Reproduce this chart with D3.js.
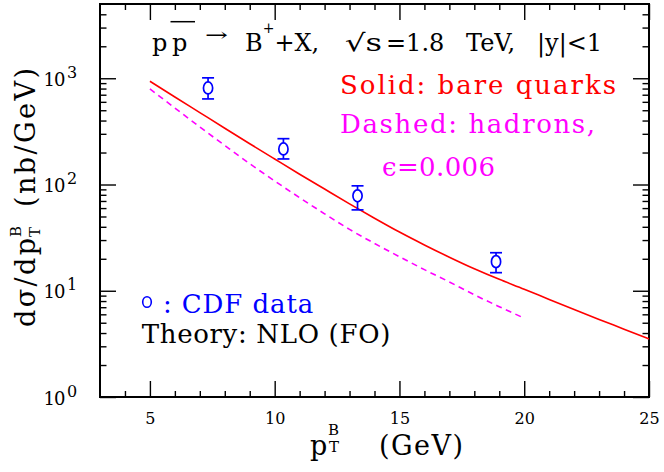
<!DOCTYPE html>
<html><head><meta charset="utf-8">
<script src="https://cdn.jsdelivr.net/npm/d3@7"></script>
<style>body{margin:0;background:#fff} svg{display:block}</style>
</head><body>
<svg id="c" width="664" height="472" font-family="'DejaVu Serif'"></svg>
<script>
// ---- data ----
const pT = [5,6,7,8,9,10,11,12,13,14,15,16,17,18,19,20,21,22,23,24,25];
const bareQuarks = [937.6,666.8,475.3,338.8,242.1,173.8,125.0,90.6,65.8,48.2,35.7,27.0,20.7,16.1,12.8,10.35,8.28,6.65,5.37,4.35,3.52];
const pTHadrons = [5,6,7,8,9,10,11,12,13,14,15,16,17,18,19,20];
const hadrons = [794,525,348,233,157,108,75.2,53.0,37.8,27.9,20.9,15.8,12.1,9.16,7.08,5.52];
const cdfPT = [7.33,10.35,13.32,18.87];
const cdfVal = [811,216,78.2,18.8];
const cdfLo = [639,174,57.7,14.8];
const cdfHi = [1009,270,97.2,22.8];
const xMajor = [5,10,15,20,25];
const yMajor = [1,10,100,1000];
const yExp = ["0","1","2","3"];

// ---- layout ----
const FONT = "'DejaVu Serif'";
const svg = d3.select("#c");
const L = 100, R = 649, T = 4, B = 397;
const x = d3.scaleLinear().domain([3,25]).range([L,R]);
const y = d3.scaleLog().domain([1,5000]).range([B,T]);

const xMinor = d3.range(4,25).filter(v => v % 5 !== 0);
const yMinor = [];
yMajor.forEach(d => { for (let k=2;k<=9;k++){ const v=d*k; if (v<5000) yMinor.push(v);} });

function ax(gen, tr, vals, size, fmt){
  const g = svg.append("g").attr("transform", tr)
    .call(gen.tickValues(vals).tickSize(size).tickSizeOuter(0).tickFormat(fmt || ""));
  g.attr("font-family",FONT);
  g.select(".domain").remove();
  g.selectAll("line").attr("stroke","#000").attr("stroke-width",1.4);
  return g;
}
const gxb = ax(d3.axisBottom(x).tickPadding(16), `translate(0,${B})`, xMajor, -16, d3.format("d"));
gxb.attr("font-size",16);
gxb.selectAll("text").attr("fill","#000");
ax(d3.axisBottom(x), `translate(0,${B})`, xMinor, -6);
ax(d3.axisTop(x), `translate(0,${T})`, xMajor, -16);
ax(d3.axisTop(x), `translate(0,${T})`, xMinor, -6);
ax(d3.axisLeft(y), `translate(${L},0)`, yMajor, -16);
ax(d3.axisLeft(y), `translate(${L},0)`, yMinor, -6.5);
ax(d3.axisRight(y), `translate(${R},0)`, yMajor, -16);
ax(d3.axisRight(y), `translate(${R},0)`, yMinor, -6.5);

svg.append("rect").attr("x",L).attr("y",T).attr("width",R-L).attr("height",B-T)
  .attr("fill","none").attr("stroke","#000").attr("stroke-width",2);

// y tick labels 10^n
yMajor.forEach((v,i) => {
  svg.append("text").attr("x",43.5).attr("y", y(v)+7.5).attr("font-size",18).attr("fill","#000")
    .attr("textLength",22).attr("lengthAdjust","spacing").text("10");
  svg.append("text").attr("x",67).attr("y", y(v)-0.5).attr("font-size",16).attr("fill","#000").text(yExp[i]);
});

// ---- curves ----
const line = d3.line().curve(d3.curveMonotoneX).x(d => x(d[0])).y(d => y(d[1]));
svg.append("path").datum(pT.map((p,i)=>[p,bareQuarks[i]])).attr("d",line)
  .attr("fill","none").attr("stroke","#ff0000").attr("stroke-width",1.6);
svg.append("path").datum(pTHadrons.map((p,i)=>[p,hadrons[i]])).attr("d",line)
  .attr("fill","none").attr("stroke","#ff00ff").attr("stroke-width",1.6).attr("stroke-dasharray","6,4.5");

// ---- CDF data ----
const blue = "#0000ff";
const gd = svg.append("g").attr("stroke",blue).attr("stroke-width",1.7).attr("fill","none");
cdfPT.forEach((p,i) => {
  const cx = x(p);
  gd.append("line").attr("x1",cx).attr("x2",cx).attr("y1",y(cdfHi[i])).attr("y2",y(cdfLo[i]));
  gd.append("line").attr("x1",cx-6).attr("x2",cx+6).attr("y1",y(cdfHi[i])).attr("y2",y(cdfHi[i]));
  gd.append("line").attr("x1",cx-6).attr("x2",cx+6).attr("y1",y(cdfLo[i])).attr("y2",y(cdfLo[i]));
  gd.append("ellipse").attr("cx",cx).attr("cy",y(cdfVal[i])).attr("rx",4.6).attr("ry",6).attr("fill","#fff");
});

// ---- texts ----
function txt(s, xx, yy, size, color, len, adj){
  const t = svg.append("text").attr("x",xx).attr("y",yy).attr("font-size",size).attr("fill",color||"#000").text(s);
  if (len) t.attr("textLength",len).attr("lengthAdjust",adj || "spacing");
  return t;
}
// title
txt("p",152,50.7,24,"#000");
txt("p",172,50.7,24,"#000");
svg.append("line").attr("x1",170.5).attr("x2",195).attr("y1",21.7).attr("y2",21.7).attr("stroke","#000").attr("stroke-width",1.5);
txt("→",205,41,18,"#000",23,"spacingAndGlyphs");
const tb = svg.append("text").attr("x",245).attr("y",50.7).attr("font-size",24).attr("fill","#000");
tb.append("tspan").text("B");
tb.append("tspan").attr("dy",-18).attr("font-size",14).text("+");
tb.append("tspan").attr("dy",18).text("+X,");
txt("√s",345,50.7,24,"#000",37,"spacingAndGlyphs");
txt("=1.8",386,50.7,24,"#000");
txt("TeV,",466,50.7,24,"#000");
txt("|y|<1",537,50.7,24,"#000");

txt("Solid: bare quarks",340,94,26,"#ff0000",276);
txt("Dashed: hadrons,",340,133,26,"#ff00ff",255);
txt("ϵ=0.006",382,176,26,"#ff00ff",113);

svg.append("ellipse").attr("cx",147).attr("cy",302).attr("rx",4.3).attr("ry",5.3)
  .attr("fill","none").attr("stroke",blue).attr("stroke-width",1.6);
txt(":",163,312.7,26,blue);
txt("CDF data",181.7,312.7,26,blue,131.6);
txt("Theory: NLO (FO)",141.7,343,26,"#000",248.6);

// x axis label
txt("p",310,455,27,"#000");
txt("B",328,435,15,"#000");
txt("T",329,452,15,"#000");
txt("(GeV)",379,455,27,"#000",84);

// y axis label (rotated)
function rtxt(s, xx, yy, size, len){
  const t = svg.append("text").attr("transform",`translate(${xx},${yy}) rotate(-90)`)
    .attr("font-size",size).attr("fill","#000").text(s);
  if (len) t.attr("textLength",len).attr("lengthAdjust","spacing");
  return t;
}
rtxt("dσ/dp",35,327,27,89);
rtxt("T",40,237,15);
rtxt("B",21,237,15);
rtxt("(nb/GeV)",35,207,27,139);
</script>
</body></html>
